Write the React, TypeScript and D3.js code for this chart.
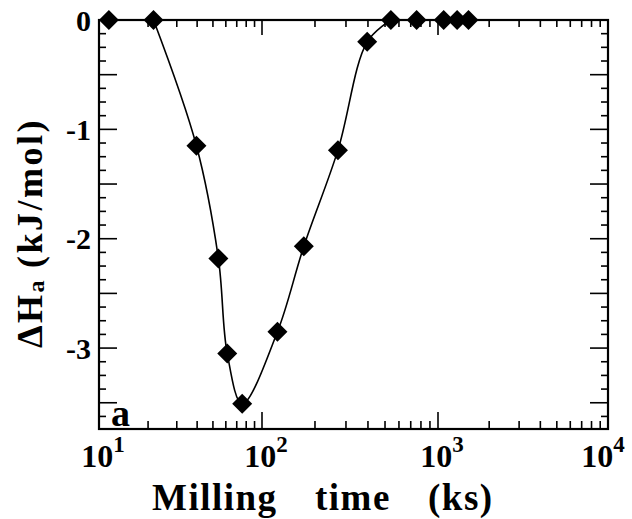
import React, { useEffect, useRef } from "react";
import * as d3 from "d3";

// milling time (ks) and enthalpy change (kJ/mol)
const times = [11.5, 21.6, 39.6, 54, 61.2, 75.6, 122.4, 172.8, 270, 396, 540, 756, 1080, 1296, 1512];
const deltaH = [0, 0, -1.15, -2.18, -3.05, -3.51, -2.85, -2.07, -1.19, -0.2, 0, 0, 0, 0, 0];

const decades = [10, 100, 1000, 10000];
const decadeExp = ["1", "2", "3", "4"];
const yLabelValues = [0, -1, -2, -3];
const yLabels = ["0", "-1", "-2", "-3"];

const width = 632;
const height = 519;
const left = 99;
const right = 608;
const top = 20;
const bottom = 429;
const serif = "Liberation Serif, DejaVu Serif, serif";

type Pt = { t: number; h: number };

const drawChart = (node: SVGSVGElement) => {
  const svg = d3.select(node);
  svg.selectAll("*").remove();

  // the scanned axis is not quite even per decade
  const x = d3.scaleLog().domain(decades).range([left, 262, 438, right]);
  const y = d3.scaleLinear().domain([0, -3.74]).range([top, bottom]);

  svg.append("defs")
    .append("clipPath")
    .attr("id", "plot")
    .append("rect")
    .attr("x", left).attr("y", top)
    .attr("width", right - left).attr("height", bottom - top);

  const g = svg.append("g");

  // x ticks, bottom and top, pointing inward
  const xt = x.ticks().filter((t) => t >= 10 && t <= 10000);
  xt.forEach((t) => {
    const major = Math.abs(Math.log10(t) - Math.round(Math.log10(t))) < 1e-9;
    const len = major ? 17 : 8;
    g.append("line")
      .attr("x1", x(t)).attr("x2", x(t))
      .attr("y1", bottom).attr("y2", bottom - len)
      .attr("stroke", "#000").attr("stroke-width", 1.6);
    g.append("line")
      .attr("x1", x(t)).attr("x2", x(t))
      .attr("y1", top).attr("y2", top + (major ? 15 : 7))
      .attr("stroke", "#000").attr("stroke-width", 1.6);
  });

  // y ticks every 0.125, longer at halves
  const yt = d3.range(0, 31).map((i) => -i * 0.125).filter((v) => v >= -3.74);
  yt.forEach((v) => {
    const half = Math.abs(v * 2 - Math.round(v * 2)) < 1e-9;
    const len = half ? 18 : 7;
    g.append("line")
      .attr("x1", left).attr("x2", left + len)
      .attr("y1", y(v)).attr("y2", y(v))
      .attr("stroke", "#000").attr("stroke-width", 1.6);
    g.append("line")
      .attr("x1", right).attr("x2", right - len)
      .attr("y1", y(v)).attr("y2", y(v))
      .attr("stroke", "#000").attr("stroke-width", 1.6);
  });

  // frame
  g.append("rect")
    .attr("x", left).attr("y", top)
    .attr("width", right - left).attr("height", bottom - top)
    .attr("fill", "none").attr("stroke", "#000").attr("stroke-width", 2.2);

  const data: Pt[] = times.map((t, i) => ({ t, h: deltaH[i] }));

  // the dip is a smooth curve, the flat parts lie on the top axis
  const firstDip = deltaH.findIndex((h) => h < 0) - 1;
  const lastDip = deltaH.length - 1 - [...deltaH].reverse().findIndex((h) => h < 0) + 1;

  const smooth = d3
    .line<Pt>()
    .x((d) => x(d.t))
    .y((d) => y(d.h))
    .curve(d3.curveCatmullRom.alpha(0.5));
  const straight = d3
    .line<Pt>()
    .x((d) => x(d.t))
    .y((d) => y(d.h));

  const curves = [
    straight(data.slice(0, firstDip + 1)),
    smooth(data.slice(firstDip, lastDip + 1)),
    straight(data.slice(lastDip)),
  ];
  g.selectAll(".curve")
    .data(curves)
    .enter()
    .append("path")
    .attr("class", "curve")
    .attr("d", (d) => d)
    .attr("clip-path", "url(#plot)")
    .attr("fill", "none")
    .attr("stroke", "#000")
    .attr("stroke-width", 1.6);

  const diamond = d3.symbol().type(d3.symbolSquare).size(200);
  g.selectAll(".pt")
    .data(data)
    .enter()
    .append("path")
    .attr("class", "pt")
    .attr("d", diamond)
    .attr("transform", (d) => `translate(${x(d.t)},${y(d.h)}) rotate(45)`)
    .attr("fill", "#000");

  const txt = (sel: any, size: number) =>
    sel
      .style("font-family", serif)
      .style("font-weight", "bold")
      .style("font-size", `${size}px`);

  // y tick labels
  yLabelValues.forEach((v, i) => {
    txt(g.append("text"), 30)
      .attr("x", 91)
      .attr("y", y(v))
      .attr("dy", "0.35em")
      .attr("text-anchor", "end")
      .text(yLabels[i]);
  });

  // x tick labels 10^n
  decades.forEach((d, i) => {
    const tx = txt(g.append("text"), 32)
      .attr("x", Math.min(x(d) + 4, 603))
      .attr("y", 467)
      .attr("text-anchor", "middle");
    tx.append("tspan").text("10");
    tx.append("tspan").style("font-size", "23px").attr("dy", -15).text(decadeExp[i]);
  });

  // x title
  const xl = txt(g.append("text"), 37).attr("y", 510).style("letter-spacing", "1.5px");
  xl.append("tspan").attr("x", 152).text("Milling");
  xl.append("tspan").attr("x", 315).text("time");
  xl.append("tspan").attr("x", 428).text("(ks)");

  // y title
  const yl = txt(g.append("text"), 36)
    .attr("transform", "translate(42,348) rotate(-90)")
    .style("letter-spacing", "2.5px");
  yl.append("tspan").text("\u0394H");
  yl.append("tspan").style("font-size", "24px").attr("dy", 2).text("a");
  yl.append("tspan").attr("dy", -2).attr("dx", 10).text("(kJ/mol)");

  // panel letter
  txt(g.append("text"), 38)
    .attr("x", 111)
    .attr("y", 426)
    .text("a");
};

export default function App() {
  const ref = useRef<SVGSVGElement>(null);

  useEffect(() => {
    if (ref.current) drawChart(ref.current);
  }, []);

  return (
    <svg
      ref={ref}
      width={width}
      height={height}
      style={{ position: "absolute", left: 0, top: 0, background: "#fff" }}
    />
  );
}
